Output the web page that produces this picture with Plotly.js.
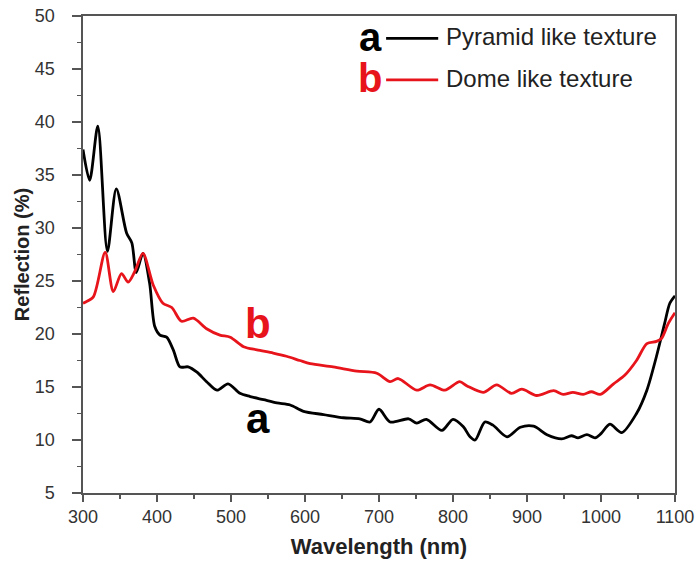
<!DOCTYPE html>
<html>
<head>
<meta charset="utf-8">
<script src="https://cdn.plot.ly/plotly-3.0.1.min.js"></script>
<style>
  html, body { margin: 0; padding: 0; background: #fff; }
  #chart { width: 698px; height: 563px; }
</style>
</head>
<body>
<div id="chart"></div>
<script>
// Reflection spectra of the two textured surfaces
const seriesNames = ["Pyramid like texture", "Dome like texture"];
const seriesTags = ["a", "b"];

const waveA = [300, 309, 320, 333, 345, 359, 366, 372, 381, 390, 397, 404, 413, 422, 431, 442, 454, 467, 481, 496, 512, 526, 544, 562, 580, 598, 625, 652, 674, 688, 700, 715, 740, 751, 764, 785, 800, 814, 823, 830, 843, 854, 873, 891, 909, 927, 947, 960, 969, 981, 992, 1000, 1012, 1028, 1048, 1062, 1075, 1086, 1093, 1100];
const reflA = [37.4, 34.5, 39.6, 27.8, 33.7, 29.5, 28.6, 25.8, 27.6, 24.8, 20.7, 19.9, 19.7, 18.5, 16.9, 16.9, 16.4, 15.5, 14.7, 15.3, 14.4, 14.1, 13.8, 13.5, 13.3, 12.7, 12.4, 12.1, 12.0, 11.7, 12.9, 11.7, 12.0, 11.6, 11.95, 10.9, 11.95, 11.25, 10.3, 10.0, 11.7, 11.4, 10.3, 11.2, 11.3, 10.5, 10.1, 10.4, 10.2, 10.5, 10.2, 10.6, 11.5, 10.7, 12.5, 14.7, 17.9, 21.0, 22.9, 23.6];

const waveB = [300, 303, 314, 330, 341, 352, 361, 370, 381, 395, 408, 420, 433, 449, 467, 485, 499, 517, 535, 557, 575, 593, 607, 638, 670, 697, 715, 726, 751, 769, 789, 809, 819, 841, 859, 879, 893, 913, 936, 949, 962, 976, 987, 999, 1017, 1032, 1048, 1062, 1075, 1082, 1091, 1100];
const reflB = [22.9, 23.0, 23.5, 27.7, 24.0, 25.7, 24.9, 25.9, 27.6, 24.6, 22.9, 22.5, 21.2, 21.5, 20.5, 19.9, 19.7, 18.8, 18.5, 18.2, 17.9, 17.5, 17.2, 16.9, 16.5, 16.3, 15.5, 15.8, 14.7, 15.2, 14.7, 15.5, 15.1, 14.5, 15.2, 14.4, 14.8, 14.2, 14.65, 14.3, 14.5, 14.3, 14.55, 14.3, 15.3, 16.1, 17.5, 19.1, 19.3, 19.6, 21.0, 22.0];

const xTicks = [300, 400, 500, 600, 700, 800, 900, 1000, 1100];
const yTicks = [5, 10, 15, 20, 25, 30, 35, 40, 45, 50];

const colors = ["#000000", "#e8141b"];
const FONT = "Liberation Sans, Arial, sans-serif";

const traces = [
  { x: waveA, y: reflA, name: seriesNames[0], type: "scatter", mode: "lines",
    line: { color: colors[0], width: 2.8, shape: "spline", smoothing: 0.8 } },
  { x: waveB, y: reflB, name: seriesNames[1], type: "scatter", mode: "lines",
    line: { color: colors[1], width: 2.8, shape: "spline", smoothing: 0.8 } }
];

// Hand-built key: tag letter, short line sample, description
const keyRows = [0.953, 0.866];
const shapes = [];
const annotations = [];
keyRows.forEach((ry, i) => {
  shapes.push({ type: "line", xref: "paper", yref: "paper",
    x0: 0.512, x1: 0.6, y0: ry, y1: ry,
    line: { color: colors[i], width: 2.6 } });
  annotations.push({ xref: "paper", yref: "paper", x: 0.508, y: ry + 0.004,
    xanchor: "right", yanchor: "middle", showarrow: false, height: 36,
    text: "<b>" + seriesTags[i] + "</b>",
    font: { family: FONT, size: 40, color: colors[i] } });
  annotations.push({ xref: "paper", yref: "paper", x: 0.61, y: ry + 0.004,
    xanchor: "left", yanchor: "middle", showarrow: false,
    text: seriesNames[i],
    font: { family: FONT, size: 24, color: "#222" } });
});

// Curve tags placed next to each curve
annotations.push({ x: 536, y: 21.0, xref: "x", yref: "y", showarrow: false,
  text: "<b>b</b>", font: { family: FONT, size: 42, color: colors[1] } });
annotations.push({ x: 536, y: 12.0, xref: "x", yref: "y", showarrow: false,
  text: "<b>a</b>", font: { family: FONT, size: 42, color: colors[0] } });

const axisCommon = {
  showgrid: false, zeroline: false,
  showline: true, mirror: true, linecolor: "#555", linewidth: 1.6,
  ticks: "outside", ticklen: 7, tickwidth: 1.4, tickcolor: "#555",
  tickfont: { family: FONT, size: 18, color: "#333" }
};

const layout = {
  width: 698, height: 563,
  margin: { l: 83, r: 23, t: 16, b: 70 },
  paper_bgcolor: "#fff", plot_bgcolor: "#fff",
  showlegend: false,
  xaxis: Object.assign({}, axisCommon, {
    range: [300, 1100], tickvals: xTicks,
    minor: { dtick: 50, ticks: "outside", ticklen: 4, tickcolor: "#555" },
    title: { text: "<b>Wavelength (nm)</b>", standoff: 12,
      font: { family: FONT, size: 22, color: "#222" } }
  }),
  yaxis: Object.assign({}, axisCommon, {
    range: [5, 50], tickvals: yTicks, ticklen: 9, ticklabelstandoff: 14,
    minor: { dtick: 2.5, ticks: "outside", ticklen: 4, tickcolor: "#555" },
    title: { text: "<b>Reflection (%)</b>", standoff: 0,
      font: { family: FONT, size: 20, color: "#222" } }
  }),
  shapes: shapes,
  annotations: annotations
};

Plotly.newPlot("chart", traces, layout, { displayModeBar: false, staticPlot: true });
</script>
</body>
</html>
